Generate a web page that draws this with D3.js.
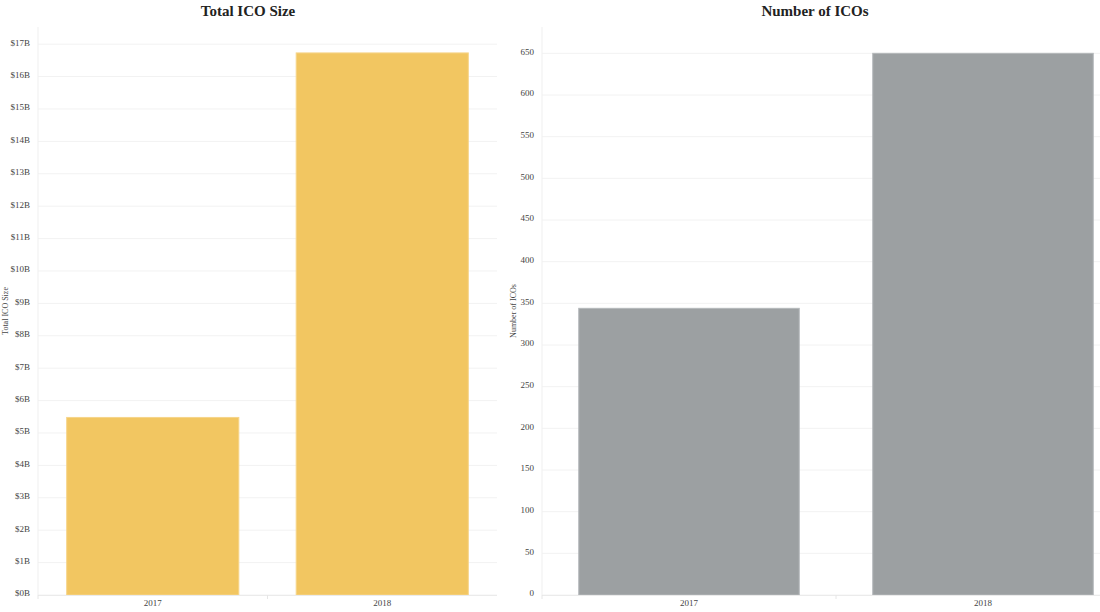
<!DOCTYPE html>
<html>
<head>
<meta charset="utf-8">
<script src="https://cdn.jsdelivr.net/npm/d3@7"></script>
<style>
  body { margin: 0; background: #fff; }
  svg { display: block; font-family: "Liberation Serif", "DejaVu Serif", serif; }
  .grid line { stroke: #f2f2f2; }
  .axis path, .axis line { stroke: #ebebeb; }
  .axis text { fill: #444; font-size: 9px; font-family: "Liberation Serif", "DejaVu Serif", serif; }
</style>
</head>
<body>
<div id="chart"></div>
<script>
var years = ["2017", "2018"];
var icoSize = [5.48, 16.73];      // billions USD
var icoCount = [344, 650];
var sizeTicks = d3.range(0, 18);  // $0B .. $17B
var countTicks = d3.range(0, 651, 50);

var width = 1100, height = 612;
var top0 = 27, bottom0 = 595;

var svg = d3.select("#chart").append("svg")
  .attr("width", width)
  .attr("height", height);

function panel(opts) {
  var x = d3.scaleBand().domain(years).range([opts.x0, opts.x1]).paddingInner(0.25).paddingOuter(0.125);
  var y = d3.scaleLinear().domain([0, opts.ymax]).range([bottom0, top0]);
  var g = svg.append("g");

  g.append("g").attr("class", "grid")
    .selectAll("line").data(opts.ticks).enter().append("line")
    .attr("x1", opts.x0).attr("x2", opts.x1)
    .attr("y1", function(d) { return y(d); })
    .attr("y2", function(d) { return y(d); });

  g.append("line")
    .attr("x1", opts.x0).attr("x2", opts.x0)
    .attr("y1", top0).attr("y2", bottom0)
    .attr("stroke", "#efefef");

  g.selectAll("rect").data(opts.values).enter().append("rect")
    .attr("x", function(d, i) { return x(years[i]); })
    .attr("width", x.bandwidth())
    .attr("y", function(d) { return y(d); })
    .attr("height", function(d) { return y(0) - y(d); })
    .attr("fill", opts.color)
    .attr("stroke", opts.edge)
    .attr("stroke-width", 1);

  var ya = g.append("g").attr("class", "axis")
    .attr("transform", "translate(" + (opts.x0 - 5) + ",0)")
    .call(d3.axisLeft(y).tickValues(opts.ticks).tickSize(0).tickFormat(opts.fmt));
  ya.select(".domain").remove();
  ya.selectAll("text").attr("dy", "0.1em");

  // bottom axis: ticks at category boundaries, labels at centers
  var step = x.step();
  var bounds = [opts.x0, opts.x0 + step];
  g.append("line")
    .attr("x1", opts.x0).attr("x2", opts.x1)
    .attr("y1", bottom0 + 0.5).attr("y2", bottom0 + 0.5)
    .attr("stroke", "#ebebeb");
  g.selectAll(".btick").data(bounds).enter().append("line")
    .attr("x1", function(d) { return d; }).attr("x2", function(d) { return d; })
    .attr("y1", bottom0).attr("y2", bottom0 + 4)
    .attr("stroke", "#e6e6e6");
  g.selectAll(".xlab").data(years).enter().append("text")
    .attr("x", function(d) { return x(d) + x.bandwidth() / 2; })
    .attr("y", 606)
    .attr("text-anchor", "middle")
    .attr("font-size", 9)
    .attr("fill", "#444")
    .text(function(d) { return d; });

  g.append("text")
    .attr("x", opts.titleX).attr("y", 16)
    .attr("text-anchor", "middle")
    .attr("font-size", 15)
    .attr("font-weight", "bold")
    .attr("fill", "#222")
    .text(opts.title);

  g.append("text")
    .attr("transform", "translate(" + opts.labelX + "," + ((top0 + bottom0) / 2) + ") rotate(-90)")
    .attr("text-anchor", "middle")
    .attr("font-size", 8)
    .attr("fill", "#444")
    .text(opts.title);
}

panel({
  x0: 38, x1: 497, ymax: 17.53, values: icoSize, ticks: sizeTicks,
  fmt: function(d) { return "$" + d + "B"; },
  color: "#f2c661", edge: "#f6d58a",
  title: "Total ICO Size", titleX: 248, labelX: 8
});

panel({
  x0: 542, x1: 1130, ymax: 681.6, values: icoCount, ticks: countTicks,
  fmt: function(d) { return d; },
  color: "#9ca0a2", edge: "#b4b8ba",
  title: "Number of ICOs", titleX: 815, labelX: 516
});
</script>
</body>
</html>
